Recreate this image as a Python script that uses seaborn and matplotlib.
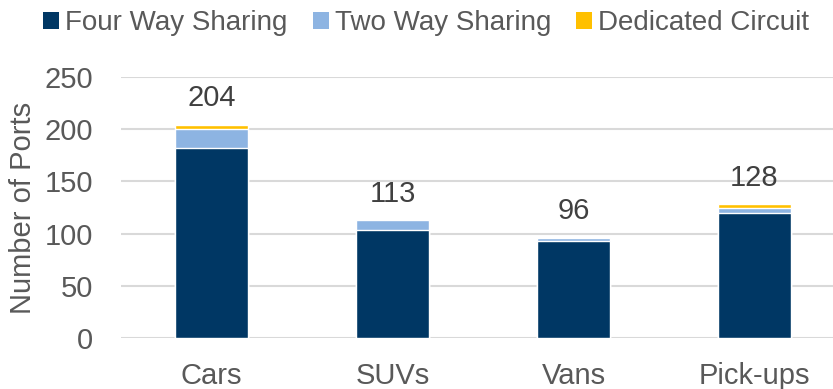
import matplotlib
matplotlib.use("Agg")
import matplotlib.pyplot as plt
from matplotlib.patches import Patch
import seaborn as sns
import pandas as pd

categories = ["Cars", "SUVs", "Vans", "Pick-ups"]
four_way = [182, 103, 93, 120]
two_way = [18, 10, 3, 5]
dedicated = [4, 0, 0, 3]
totals = [204, 113, 96, 128]
series_names = ["Four Way Sharing", "Two Way Sharing", "Dedicated Circuit"]
colors = ["#003764", "#8DB4E2", "#FFC000"]
y_ticks = [0, 50, 100, 150, 200, 250]

sns.set_theme(style="white")
plt.rcParams["font.family"] = ["Liberation Sans", "DejaVu Sans"]
text_gray = "#595959"

df = pd.DataFrame({
    "category": categories,
    "four": four_way,
    "two": two_way,
    "dedicated": dedicated,
})
df["level1"] = df["four"]
df["level2"] = df["four"] + df["two"]
df["level3"] = df["level2"] + df["dedicated"]

fig = plt.figure(figsize=(8.33, 3.89), dpi=100)
ax = fig.add_axes([121 / 833, 51 / 389, 712 / 833, 261 / 389])

# stacked bars: draw the cumulative heights from tallest to shortest
for col, color in zip(["level3", "level2", "level1"], colors[::-1]):
    sns.barplot(data=df, x="category", y=col, color=color, width=0.40,
                saturation=1, ax=ax, zorder=3)

ax.set_xlim(-0.5, -0.5 + 712 / 181)
ax.set_ylim(0, 250)
ax.set_yticks(y_ticks)
ax.yaxis.grid(True, color="#D9D9D9", linewidth=1.5, zorder=0)
ax.set_axisbelow(True)
for s in ax.spines.values():
    s.set_visible(False)
ax.tick_params(axis="both", length=0, labelsize=21, colors=text_gray)
ax.tick_params(axis="y", pad=20)
ax.tick_params(axis="x", pad=17)
ax.set_xlabel("")
ax.set_ylabel("Number of Ports", fontsize=21, color=text_gray)
ax.yaxis.set_label_coords((37 - 121) / 712, 0.5)

for i, t in enumerate(totals):
    ax.text(i, t + 12, str(t), ha="center", va="bottom", fontsize=21,
            color="#404040", clip_on=False)

handles = [Patch(facecolor=c, edgecolor="none") for c in colors]
fig.legend(handles, series_names, loc="upper left",
           bbox_to_anchor=(43 / 833, 1 - 10 / 389),
           ncol=3, frameon=False, fontsize=20, labelcolor=text_gray,
           handlelength=0.58, handleheight=0.58, handletextpad=0.22,
           columnspacing=0.9, borderaxespad=0, borderpad=0)

fig.savefig("out.png", dpi=100)
